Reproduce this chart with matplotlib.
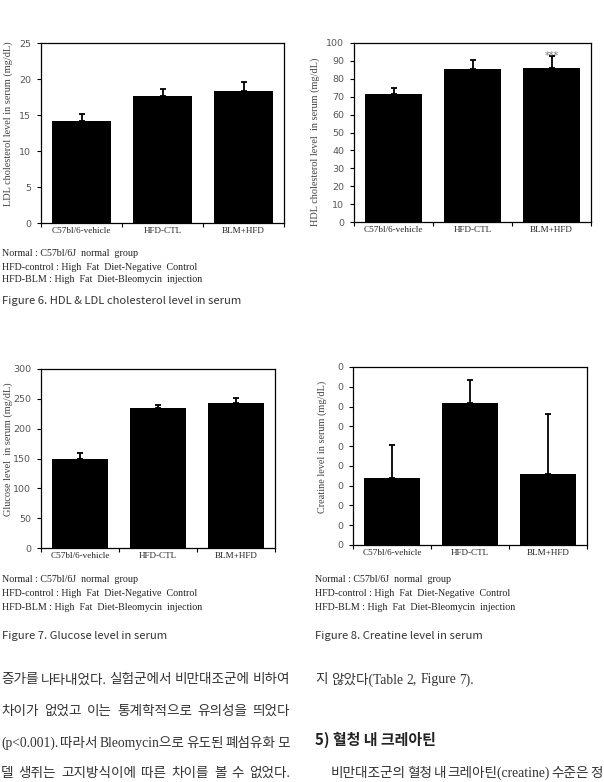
import matplotlib.pyplot as plt
import numpy as np

groups = ['C57bl/6-vehicle', 'HFD-CTL', 'BLM+HFD']

ldl = [14.2, 17.65, 18.4]
ldl_err = [0.9, 0.95, 1.15]
hdl = [71.7, 85.3, 85.8]
hdl_err = [3.2, 5.0, 7.1]
glucose = [150, 235, 243.4]
glucose_err = [10, 5.5, 7.3]
creatine = [0.341, 0.72, 0.361]
creatine_err = [0.163, 0.115, 0.302]

legend_lines = ['Normal : C57bl/6J  normal  group',
                'HFD-control : High  Fat  Diet-Negative  Control',
                'HFD-BLM : High  Fat  Diet-Bleomycin  injection']

W, H = 604, 782
fig = plt.figure(figsize=(W / 100, H / 100), dpi=100)
renderer = fig.canvas.get_renderer()

serif = 'Liberation Serif'
cjk = ['Noto Sans CJK KR', 'DejaVu Sans']
body = ['Liberation Serif', 'Noto Sans CJK KR']


def px_axes(x0, y0, x1, y1):
    return fig.add_axes([x0 / W, 1 - y1 / H, (x1 - x0) / W, (y1 - y0) / H])


def bar_chart(ax, vals, errs, ylim, step, ylabel, lab_xy, yticklabels=None):
    x = np.arange(len(groups))
    ax.bar(x, vals, width=0.72, color='black', zorder=2)
    ax.errorbar(x, vals, yerr=[np.zeros(len(errs)), errs], fmt='none',
                ecolor='black', elinewidth=1.3, capsize=2.5, capthick=1.3, zorder=3)
    ax.set_xlim(-0.5, 2.5)
    ax.set_ylim(*ylim)
    ticks = np.arange(ylim[0], ylim[1] + step / 2, step)
    ax.set_yticks(ticks)
    if yticklabels is not None:
        ax.set_yticklabels(yticklabels)
    else:
        ax.set_yticklabels(['%g' % t for t in ticks])
    ax.set_xticks([-0.5, 0.5, 1.5, 2.5])
    ax.set_xticklabels([])
    ax.set_xticks(x, minor=True)
    ax.set_xticklabels(groups, minor=True, fontfamily=serif, fontsize=6.6, color='#222222')
    ax.tick_params(axis='x', which='minor', length=0, pad=3)
    ax.tick_params(axis='x', which='major', direction='out', length=3, width=0.8)
    ax.tick_params(axis='y', direction='out', length=3, width=0.8,
                   labelsize=6.8, labelcolor='#555555', pad=4)
    for s in ax.spines.values():
        s.set_linewidth(0.9)
    ax.set_ylabel(ylabel, fontfamily=serif, fontsize=7.4, color='#444444')
    ax.yaxis.set_label_coords(*lab_xy)


ax1 = px_axes(41, 43, 284, 223)
bar_chart(ax1, ldl, ldl_err, (0, 25), 5,
          'LDL cholesterol level in serum (mg/dL)', (-0.115, 0.55))

ax2 = px_axes(354, 43, 591, 222)
bar_chart(ax2, hdl, hdl_err, (0, 100), 10,
          'HDL cholesterol level  in serum (mg/dL)', (-0.143, 0.447))
ax2.text(2, hdl[2] + hdl_err[2], '***', ha='center', va='center',
         fontsize=7, color='#777777', zorder=4)

ax3 = px_axes(41, 369, 275, 548)
bar_chart(ax3, glucose, glucose_err, (0, 300), 50,
          'Glucose level  in serum (mg/dL)', (-0.12, 0.55))

ax4 = px_axes(353, 367, 587, 545)
bar_chart(ax4, creatine, creatine_err, (0, 0.9), 0.1,
          'Creatine level in serum (mg/dL)', (-0.111, 0.55),
          yticklabels=['0'] * 10)


def caption_block(x, y_lines, y_fig, fig_title):
    for yy, line in zip(y_lines, legend_lines):
        fig.text(x / W, 1 - yy / H, line, fontfamily=serif, fontsize=7.2,
                 color='#222222', va='center', ha='left')
    fig.text(x / W, 1 - y_fig / H, fig_title, family=cjk, fontsize=8.1,
             color='#333333', va='center', ha='left')


caption_block(2, [254, 267, 280], 301, 'Figure 6. HDL & LDL cholesterol level in serum')
caption_block(2, [580, 593, 607], 636, 'Figure 7. Glucose level in serum')
caption_block(315, [580, 593, 607], 636, 'Figure 8. Creatine level in serum')


def justified(x0, x1, y, line, size=9.8):
    # spread words between x0 and x1 (pixels) like a justified paragraph
    words = line.split(' ')
    arts = [fig.text(0, 1 - y / H, w, family=body, fontsize=size, color='#333333',
                     va='center', ha='left') for w in words]
    widths = [a.get_window_extent(renderer).width for a in arts]
    gap = (x1 - x0 - sum(widths)) / max(len(words) - 1, 1)
    xx = x0
    for a, w in zip(arts, widths):
        a.set_x(xx / W)
        xx += w + gap


left_col = ['증가를 나타내었다. 실험군에서 비만대조군에 비하여',
            '차이가 없었고 이는 통계학적으로 유의성을 띄었다',
            '(p<0.001). 따라서 Bleomycin으로 유도된 폐섬유화 모',
            '델 생쥐는 고지방식이에 따른 차이를 볼 수 없었다.']
for yy, line in zip([680, 711, 743, 773], left_col):
    justified(1, 290, yy, line)

justified(315, 474, 680, '지 않았다(Table 2, Figure 7).')
fig.text(315 / W, 1 - 740 / H, '5) 혈청 내 크레아틴', family=cjk, fontsize=10.8,
         fontweight='bold', color='#222222', va='center', ha='left')
justified(331, 603, 773, '비만대조군의 혈청 내 크레아틴(creatine) 수준은 정')

fig.savefig('out.png', dpi=100)
